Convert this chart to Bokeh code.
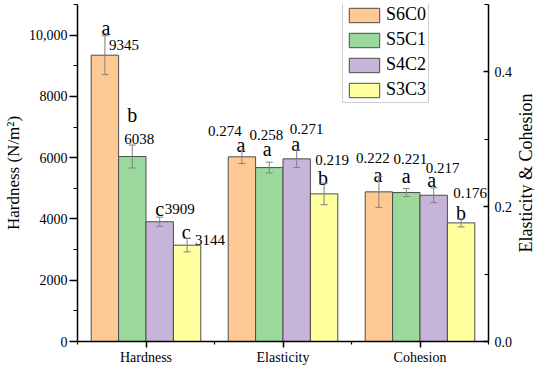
from math import pi
from bokeh.plotting import figure
from bokeh.layouts import row
from bokeh.models import (Range1d, LinearAxis, FixedTicker, ColumnDataSource, Whisker,
                          TeeHead, Legend, LegendItem)
from bokeh.embed import file_html
from bokeh.resources import INLINE
from bokeh.core.properties import value

# ---------------- data ----------------
categories = ["Hardness", "Elasticity", "Cohesion"]
series = ["S6C0", "S5C1", "S4C2", "S3C3"]
hardness_mean = [9345, 6038, 3909, 3144]
hardness_err = [635, 375, 150, 220]
elasticity_mean = [0.274, 0.258, 0.271, 0.219]
elasticity_err = [0.010, 0.008, 0.013, 0.016]
cohesion_mean = [0.222, 0.221, 0.217, 0.176]
cohesion_err = [0.023, 0.006, 0.011, 0.006]
hardness_letters = ["a", "b", "c", "c"]
elasticity_letters = ["a", "a", "a", "b"]
cohesion_letters = ["a", "a", "a", "b"]
left_ticks = [0, 2000, 4000, 6000, 8000, 10000]
left_minor = [1000, 3000, 5000, 7000, 9000, 11000]
left_tick_labels = ["0", "2000", "4000", "6000", "8000", "10,000"]
right_ticks = [0.0, 0.2, 0.4]
right_minor = [0.1, 0.3, 0.5]
right_tick_labels = ["0.0", "0.2", "0.4"]
left_title = "Hardness (N/m²)"
right_title = "Elasticity & Cohesion"

# ---------------- styles ----------------
colors = ["#FFC994", "#9AD99B", "#C6B4D9", "#FFFF9E"]
bar_offsets = [-0.3, -0.1, 0.1, 0.3]
FONT = "Times New Roman"
# label offsets in screen px relative to (bar centre, bar top)
letter_dx = {"Hardness": [1, 0, 0, -1], "Elasticity": [-1, -2, -1, -1], "Cohesion": [-1, 0, -2, 0]}
letter_dy = {"Hardness": [-27, -42, -13, -13], "Elasticity": [-12, -19, -15, -16], "Cohesion": [-17, -17, -15, -10]}
value_dx = {"Hardness": [19, 7, 20, 23], "Elasticity": [-17, -3, 10, 8], "Cohesion": [-6, 4, 9, 9]}
value_dy = {"Hardness": [-10, -18, -13, -5], "Elasticity": [-26, -33, -30, -34], "Cohesion": [-34, -34, -27, -30]}

p = figure(width=516, height=367, x_range=Range1d(0.5, 3.5), y_range=Range1d(0, 11000),
           output_backend="svg", toolbar_location=None,
           min_border_left=68, min_border_right=28, min_border_top=4, min_border_bottom=25)
p.extra_y_ranges = {"right": Range1d(0, 0.5)}
p.xgrid.visible = False
p.ygrid.visible = False
p.outline_line_color = None
p.background_fill_color = "white"
p.border_fill_color = "white"

right_axis = LinearAxis(y_range_name="right")
p.add_layout(right_axis, "right")

groups = [
    ("Hardness", hardness_mean, hardness_err, hardness_letters, "default",
     [str(v) for v in hardness_mean]),
    ("Elasticity", elasticity_mean, elasticity_err, elasticity_letters, "right",
     ["%.3f" % v for v in elasticity_mean]),
    ("Cohesion", cohesion_mean, cohesion_err, cohesion_letters, "right",
     ["%.3f" % v for v in cohesion_mean]),
]

legend_renderer = None
for gi, (name, means, errs, letters, yr, vtexts) in enumerate(groups):
    xs = [categories.index(name) + 1 + o for o in bar_offsets]
    src = ColumnDataSource(dict(
        x=xs, top=means,
        upper=[m + e for m, e in zip(means, errs)],
        lower=[m - e for m, e in zip(means, errs)],
        color=colors, letter=letters, vtext=vtexts,
        ldx=letter_dx[name], ldy=letter_dy[name],
        vdx=value_dx[name], vdy=value_dy[name],
    ))
    r = p.vbar(x="x", top="top", bottom=0, width=0.2, source=src, fill_color="color",
               line_color="#4d4d4d", line_width=1, y_range_name=yr)
    if gi == 0:
        legend_renderer = r
    w = Whisker(source=src, base="x", upper="upper", lower="lower", dimension="height",
                line_color="#808080", line_width=1, y_range_name=yr, level="overlay",
                upper_head=TeeHead(size=7, line_color="#808080", line_width=1),
                lower_head=TeeHead(size=7, line_color="#808080", line_width=1))
    p.add_layout(w)
    p.text(x="x", y="top", text="letter", source=src, x_offset="ldx", y_offset="ldy",
           text_align="center", text_baseline="alphabetic", text_font=value(FONT),
           text_font_size="20px", text_color="black", y_range_name=yr)
    p.text(x="x", y="top", text="vtext", source=src, x_offset="vdx", y_offset="vdy",
           text_align="center", text_baseline="alphabetic", text_font=value(FONT),
           text_font_size="15px", text_color="black", y_range_name=yr)

# axes
xa = p.xaxis[0]
xa.ticker = FixedTicker(ticks=[1, 2, 3], minor_ticks=[0.5, 1.5, 2.5, 3.5])
xa.major_label_overrides = {i + 1: c for i, c in enumerate(categories)}
xa.major_tick_out = 6
xa.major_tick_in = 0
xa.minor_tick_out = 3
xa.minor_tick_in = 0
xa.major_label_standoff = 2

ya = p.yaxis[0]
ya.ticker = FixedTicker(ticks=left_ticks, minor_ticks=left_minor)
ya.major_label_overrides = {t: l for t, l in zip(left_ticks, left_tick_labels)}
ya.major_tick_out = 8
ya.major_tick_in = 0
ya.minor_tick_out = 4
ya.minor_tick_in = 0
ya.major_label_standoff = 2
ya.axis_label = left_title
ya.axis_label_standoff = 3

right_axis.ticker = FixedTicker(ticks=right_ticks, minor_ticks=right_minor)
right_axis.major_label_overrides = {t: l for t, l in zip(right_ticks, right_tick_labels)}
right_axis.major_tick_out = 0
right_axis.major_tick_in = 5
right_axis.minor_tick_out = 0
right_axis.minor_tick_in = 4
right_axis.major_label_standoff = 6

for ax in (xa, ya, right_axis):
    ax.axis_line_width = 1.5
    ax.axis_line_color = "black"
    ax.major_tick_line_width = 1.5
    ax.minor_tick_line_width = 1.2
    ax.major_tick_line_color = "black"
    ax.minor_tick_line_color = "black"
    ax.major_label_text_font = FONT
    ax.major_label_text_font_size = "14px"
    ax.major_label_text_color = "black"
    ax.axis_label_text_font = FONT
    ax.axis_label_text_font_size = "17px"
    ax.axis_label_text_font_style = "normal"
    ax.axis_label_text_color = "black"

legend = Legend(items=[LegendItem(label=s, renderers=[legend_renderer], index=i)
                       for i, s in enumerate(series)],
                location=(265, 238), glyph_width=38, glyph_height=18, label_height=18,
                label_standoff=3, spacing=4, padding=2, margin=0,
                border_line_color="#a0a0a0", border_line_width=1,
                background_fill_color="white", background_fill_alpha=1.0,
                label_text_font=FONT, label_text_font_size="18px", label_text_color="black")
p.add_layout(legend)

# right-hand axis title (reads bottom-to-top), in a narrow companion figure
p2 = figure(width=18, height=367, x_range=Range1d(0, 1), y_range=Range1d(0, 1),
            output_backend="svg", toolbar_location=None,
            x_axis_location=None, y_axis_location=None,
            min_border_left=0, min_border_right=0, min_border_top=4, min_border_bottom=25)
p2.xgrid.visible = False
p2.ygrid.visible = False
p2.outline_line_color = None
p2.background_fill_color = "white"
p2.border_fill_color = "white"
p2.text(x=[0.5], y=[0.5], text=[right_title], angle=pi / 2, text_align="center",
        text_baseline="middle", text_font=value(FONT), text_font_size="18px",
        text_color="black")

layout = row(p, p2, spacing=0)
open("out.html", "w").write(file_html(layout, INLINE))
